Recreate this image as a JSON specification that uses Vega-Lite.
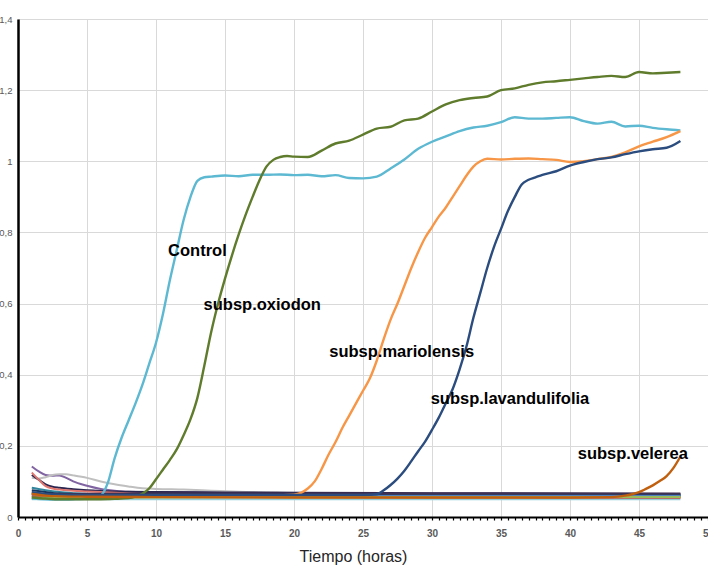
{
  "$schema": "https://vega.github.io/schema/vega-lite/v6.json",
  "width": 690,
  "height": 498,
  "autosize": {"type": "none"},
  "padding": {"left": 18, "top": 19, "right": 0, "bottom": 48},
  "background": "white",
  "config": {
    "view": {"stroke": null},
    "font": "Liberation Sans"
  },
  "datasets": {
    "fondo": [
      {"s": "b01", "t": 1, "v": 0.142}, {"s": "b01", "t": 1.5, "v": 0.128}, {"s": "b01", "t": 2, "v": 0.118}, {"s": "b01", "t": 2.5, "v": 0.116}, {"s": "b01", "t": 3, "v": 0.117}, {"s": "b01", "t": 3.5, "v": 0.11}, {"s": "b01", "t": 4, "v": 0.1}, {"s": "b01", "t": 5, "v": 0.088}, {"s": "b01", "t": 6, "v": 0.079}, {"s": "b01", "t": 7, "v": 0.074}, {"s": "b01", "t": 8, "v": 0.071}, {"s": "b01", "t": 10, "v": 0.07}, {"s": "b01", "t": 15, "v": 0.068}, {"s": "b01", "t": 20, "v": 0.066}, {"s": "b01", "t": 25, "v": 0.065}, {"s": "b01", "t": 30, "v": 0.064}, {"s": "b01", "t": 35, "v": 0.063}, {"s": "b01", "t": 40, "v": 0.062}, {"s": "b01", "t": 45, "v": 0.061}, {"s": "b01", "t": 48, "v": 0.06},
      {"s": "b02", "t": 1, "v": 0.11}, {"s": "b02", "t": 1.5, "v": 0.108}, {"s": "b02", "t": 2, "v": 0.112}, {"s": "b02", "t": 2.5, "v": 0.118}, {"s": "b02", "t": 3, "v": 0.12}, {"s": "b02", "t": 3.5, "v": 0.12}, {"s": "b02", "t": 4, "v": 0.117}, {"s": "b02", "t": 5, "v": 0.11}, {"s": "b02", "t": 6, "v": 0.1}, {"s": "b02", "t": 7, "v": 0.092}, {"s": "b02", "t": 8, "v": 0.086}, {"s": "b02", "t": 9, "v": 0.081}, {"s": "b02", "t": 10, "v": 0.079}, {"s": "b02", "t": 12, "v": 0.077}, {"s": "b02", "t": 14, "v": 0.074}, {"s": "b02", "t": 16, "v": 0.071}, {"s": "b02", "t": 20, "v": 0.068}, {"s": "b02", "t": 25, "v": 0.065}, {"s": "b02", "t": 30, "v": 0.063}, {"s": "b02", "t": 40, "v": 0.061}, {"s": "b02", "t": 48, "v": 0.06},
      {"s": "b03", "t": 1, "v": 0.118}, {"s": "b03", "t": 1.5, "v": 0.105}, {"s": "b03", "t": 2, "v": 0.092}, {"s": "b03", "t": 2.5, "v": 0.085}, {"s": "b03", "t": 3, "v": 0.082}, {"s": "b03", "t": 4, "v": 0.078}, {"s": "b03", "t": 5, "v": 0.075}, {"s": "b03", "t": 6, "v": 0.073}, {"s": "b03", "t": 8, "v": 0.071}, {"s": "b03", "t": 10, "v": 0.07}, {"s": "b03", "t": 15, "v": 0.069}, {"s": "b03", "t": 20, "v": 0.068}, {"s": "b03", "t": 30, "v": 0.067}, {"s": "b03", "t": 40, "v": 0.066}, {"s": "b03", "t": 48, "v": 0.065},
      {"s": "b04", "t": 1, "v": 0.125}, {"s": "b04", "t": 1.5, "v": 0.105}, {"s": "b04", "t": 2, "v": 0.087}, {"s": "b04", "t": 2.5, "v": 0.08}, {"s": "b04", "t": 3, "v": 0.077}, {"s": "b04", "t": 4, "v": 0.074}, {"s": "b04", "t": 5, "v": 0.072}, {"s": "b04", "t": 6, "v": 0.07}, {"s": "b04", "t": 8, "v": 0.066}, {"s": "b04", "t": 10, "v": 0.064}, {"s": "b04", "t": 15, "v": 0.061}, {"s": "b04", "t": 20, "v": 0.06}, {"s": "b04", "t": 30, "v": 0.058}, {"s": "b04", "t": 40, "v": 0.057}, {"s": "b04", "t": 48, "v": 0.056},
      {"s": "b05", "t": 1, "v": 0.082}, {"s": "b05", "t": 2, "v": 0.075}, {"s": "b05", "t": 3, "v": 0.07}, {"s": "b05", "t": 4, "v": 0.067}, {"s": "b05", "t": 5, "v": 0.065}, {"s": "b05", "t": 7, "v": 0.063}, {"s": "b05", "t": 10, "v": 0.062}, {"s": "b05", "t": 20, "v": 0.061}, {"s": "b05", "t": 30, "v": 0.06}, {"s": "b05", "t": 48, "v": 0.06},
      {"s": "b06", "t": 1, "v": 0.075}, {"s": "b06", "t": 2, "v": 0.07}, {"s": "b06", "t": 3, "v": 0.066}, {"s": "b06", "t": 5, "v": 0.064}, {"s": "b06", "t": 10, "v": 0.062}, {"s": "b06", "t": 30, "v": 0.062}, {"s": "b06", "t": 48, "v": 0.062},
      {"s": "b07", "t": 1, "v": 0.068}, {"s": "b07", "t": 2, "v": 0.064}, {"s": "b07", "t": 3, "v": 0.06}, {"s": "b07", "t": 5, "v": 0.058}, {"s": "b07", "t": 10, "v": 0.057}, {"s": "b07", "t": 30, "v": 0.055}, {"s": "b07", "t": 48, "v": 0.054},
      {"s": "b08", "t": 1, "v": 0.06}, {"s": "b08", "t": 10, "v": 0.06}, {"s": "b08", "t": 30, "v": 0.06}, {"s": "b08", "t": 48, "v": 0.06},
      {"s": "b09", "t": 1, "v": 0.05}, {"s": "b09", "t": 10, "v": 0.05}, {"s": "b09", "t": 30, "v": 0.05}, {"s": "b09", "t": 48, "v": 0.05},
      {"s": "b10", "t": 1, "v": 0.065}, {"s": "b10", "t": 10, "v": 0.066}, {"s": "b10", "t": 30, "v": 0.066}, {"s": "b10", "t": 48, "v": 0.066},
      {"s": "b11", "t": 1, "v": 0.058}, {"s": "b11", "t": 10, "v": 0.056}, {"s": "b11", "t": 30, "v": 0.055}, {"s": "b11", "t": 48, "v": 0.054},
      {"s": "b12", "t": 1, "v": 0.054}, {"s": "b12", "t": 10, "v": 0.055}, {"s": "b12", "t": 30, "v": 0.056}, {"s": "b12", "t": 48, "v": 0.056}
    ],
    "curvas": [
      {"s": "Control", "t": 1, "v": 0.052}, {"s": "Control", "t": 2, "v": 0.05}, {"s": "Control", "t": 3, "v": 0.049}, {"s": "Control", "t": 4, "v": 0.05}, {"s": "Control", "t": 5, "v": 0.052}, {"s": "Control", "t": 5.5, "v": 0.054}, {"s": "Control", "t": 6, "v": 0.06}, {"s": "Control", "t": 6.5, "v": 0.095}, {"s": "Control", "t": 7, "v": 0.165}, {"s": "Control", "t": 7.5, "v": 0.222}, {"s": "Control", "t": 8, "v": 0.27}, {"s": "Control", "t": 8.5, "v": 0.318}, {"s": "Control", "t": 9, "v": 0.37}, {"s": "Control", "t": 9.5, "v": 0.43}, {"s": "Control", "t": 10, "v": 0.49}, {"s": "Control", "t": 10.5, "v": 0.57}, {"s": "Control", "t": 11, "v": 0.665}, {"s": "Control", "t": 11.5, "v": 0.75}, {"s": "Control", "t": 12, "v": 0.835}, {"s": "Control", "t": 12.5, "v": 0.9}, {"s": "Control", "t": 13, "v": 0.945}, {"s": "Control", "t": 13.5, "v": 0.955}, {"s": "Control", "t": 14, "v": 0.957}, {"s": "Control", "t": 15, "v": 0.96}, {"s": "Control", "t": 16, "v": 0.958}, {"s": "Control", "t": 17, "v": 0.962}, {"s": "Control", "t": 18, "v": 0.962}, {"s": "Control", "t": 19, "v": 0.963}, {"s": "Control", "t": 20, "v": 0.961}, {"s": "Control", "t": 21, "v": 0.962}, {"s": "Control", "t": 22, "v": 0.958}, {"s": "Control", "t": 23, "v": 0.961}, {"s": "Control", "t": 24, "v": 0.953}, {"s": "Control", "t": 25, "v": 0.952}, {"s": "Control", "t": 26, "v": 0.957}, {"s": "Control", "t": 27, "v": 0.98}, {"s": "Control", "t": 28, "v": 1.005}, {"s": "Control", "t": 29, "v": 1.035}, {"s": "Control", "t": 30, "v": 1.055}, {"s": "Control", "t": 31, "v": 1.07}, {"s": "Control", "t": 32, "v": 1.085}, {"s": "Control", "t": 33, "v": 1.095}, {"s": "Control", "t": 34, "v": 1.1}, {"s": "Control", "t": 35, "v": 1.11}, {"s": "Control", "t": 36, "v": 1.124}, {"s": "Control", "t": 37, "v": 1.12}, {"s": "Control", "t": 38, "v": 1.12}, {"s": "Control", "t": 39, "v": 1.122}, {"s": "Control", "t": 40, "v": 1.124}, {"s": "Control", "t": 41, "v": 1.113}, {"s": "Control", "t": 42, "v": 1.106}, {"s": "Control", "t": 43, "v": 1.111}, {"s": "Control", "t": 44, "v": 1.098}, {"s": "Control", "t": 45, "v": 1.1}, {"s": "Control", "t": 46, "v": 1.094}, {"s": "Control", "t": 47, "v": 1.09}, {"s": "Control", "t": 48, "v": 1.087},
      {"s": "oxiodon", "t": 1, "v": 0.055}, {"s": "oxiodon", "t": 2, "v": 0.052}, {"s": "oxiodon", "t": 3, "v": 0.05}, {"s": "oxiodon", "t": 4, "v": 0.05}, {"s": "oxiodon", "t": 5, "v": 0.05}, {"s": "oxiodon", "t": 6, "v": 0.05}, {"s": "oxiodon", "t": 7, "v": 0.051}, {"s": "oxiodon", "t": 8, "v": 0.053}, {"s": "oxiodon", "t": 8.5, "v": 0.057}, {"s": "oxiodon", "t": 9, "v": 0.065}, {"s": "oxiodon", "t": 9.5, "v": 0.08}, {"s": "oxiodon", "t": 10, "v": 0.106}, {"s": "oxiodon", "t": 10.5, "v": 0.133}, {"s": "oxiodon", "t": 11, "v": 0.16}, {"s": "oxiodon", "t": 11.5, "v": 0.19}, {"s": "oxiodon", "t": 12, "v": 0.23}, {"s": "oxiodon", "t": 12.5, "v": 0.275}, {"s": "oxiodon", "t": 13, "v": 0.335}, {"s": "oxiodon", "t": 13.5, "v": 0.425}, {"s": "oxiodon", "t": 14, "v": 0.52}, {"s": "oxiodon", "t": 14.5, "v": 0.6}, {"s": "oxiodon", "t": 15, "v": 0.67}, {"s": "oxiodon", "t": 15.5, "v": 0.735}, {"s": "oxiodon", "t": 16, "v": 0.795}, {"s": "oxiodon", "t": 16.5, "v": 0.85}, {"s": "oxiodon", "t": 17, "v": 0.9}, {"s": "oxiodon", "t": 17.5, "v": 0.947}, {"s": "oxiodon", "t": 18, "v": 0.985}, {"s": "oxiodon", "t": 18.5, "v": 1.004}, {"s": "oxiodon", "t": 19, "v": 1.012}, {"s": "oxiodon", "t": 19.5, "v": 1.015}, {"s": "oxiodon", "t": 20, "v": 1.013}, {"s": "oxiodon", "t": 21, "v": 1.012}, {"s": "oxiodon", "t": 22, "v": 1.03}, {"s": "oxiodon", "t": 23, "v": 1.05}, {"s": "oxiodon", "t": 24, "v": 1.058}, {"s": "oxiodon", "t": 25, "v": 1.075}, {"s": "oxiodon", "t": 26, "v": 1.092}, {"s": "oxiodon", "t": 27, "v": 1.097}, {"s": "oxiodon", "t": 28, "v": 1.115}, {"s": "oxiodon", "t": 29, "v": 1.12}, {"s": "oxiodon", "t": 30, "v": 1.14}, {"s": "oxiodon", "t": 31, "v": 1.16}, {"s": "oxiodon", "t": 32, "v": 1.172}, {"s": "oxiodon", "t": 33, "v": 1.178}, {"s": "oxiodon", "t": 34, "v": 1.182}, {"s": "oxiodon", "t": 35, "v": 1.2}, {"s": "oxiodon", "t": 36, "v": 1.205}, {"s": "oxiodon", "t": 37, "v": 1.215}, {"s": "oxiodon", "t": 38, "v": 1.222}, {"s": "oxiodon", "t": 39, "v": 1.225}, {"s": "oxiodon", "t": 40, "v": 1.229}, {"s": "oxiodon", "t": 41, "v": 1.233}, {"s": "oxiodon", "t": 42, "v": 1.237}, {"s": "oxiodon", "t": 43, "v": 1.24}, {"s": "oxiodon", "t": 44, "v": 1.237}, {"s": "oxiodon", "t": 45, "v": 1.251}, {"s": "oxiodon", "t": 46, "v": 1.247}, {"s": "oxiodon", "t": 47, "v": 1.249}, {"s": "oxiodon", "t": 48, "v": 1.251},
      {"s": "mariolensis", "t": 1, "v": 0.065}, {"s": "mariolensis", "t": 2, "v": 0.062}, {"s": "mariolensis", "t": 3, "v": 0.06}, {"s": "mariolensis", "t": 5, "v": 0.06}, {"s": "mariolensis", "t": 10, "v": 0.06}, {"s": "mariolensis", "t": 15, "v": 0.06}, {"s": "mariolensis", "t": 18, "v": 0.06}, {"s": "mariolensis", "t": 19, "v": 0.061}, {"s": "mariolensis", "t": 20, "v": 0.063}, {"s": "mariolensis", "t": 20.5, "v": 0.068}, {"s": "mariolensis", "t": 21, "v": 0.08}, {"s": "mariolensis", "t": 21.5, "v": 0.1}, {"s": "mariolensis", "t": 22, "v": 0.135}, {"s": "mariolensis", "t": 22.5, "v": 0.175}, {"s": "mariolensis", "t": 23, "v": 0.21}, {"s": "mariolensis", "t": 23.5, "v": 0.25}, {"s": "mariolensis", "t": 24, "v": 0.285}, {"s": "mariolensis", "t": 24.5, "v": 0.32}, {"s": "mariolensis", "t": 25, "v": 0.355}, {"s": "mariolensis", "t": 25.5, "v": 0.39}, {"s": "mariolensis", "t": 26, "v": 0.44}, {"s": "mariolensis", "t": 26.5, "v": 0.5}, {"s": "mariolensis", "t": 27, "v": 0.555}, {"s": "mariolensis", "t": 27.5, "v": 0.6}, {"s": "mariolensis", "t": 28, "v": 0.65}, {"s": "mariolensis", "t": 28.5, "v": 0.7}, {"s": "mariolensis", "t": 29, "v": 0.745}, {"s": "mariolensis", "t": 29.5, "v": 0.785}, {"s": "mariolensis", "t": 30, "v": 0.815}, {"s": "mariolensis", "t": 30.5, "v": 0.845}, {"s": "mariolensis", "t": 31, "v": 0.87}, {"s": "mariolensis", "t": 31.5, "v": 0.9}, {"s": "mariolensis", "t": 32, "v": 0.93}, {"s": "mariolensis", "t": 32.5, "v": 0.96}, {"s": "mariolensis", "t": 33, "v": 0.985}, {"s": "mariolensis", "t": 33.5, "v": 1.0}, {"s": "mariolensis", "t": 34, "v": 1.007}, {"s": "mariolensis", "t": 35, "v": 1.005}, {"s": "mariolensis", "t": 36, "v": 1.007}, {"s": "mariolensis", "t": 37, "v": 1.008}, {"s": "mariolensis", "t": 38, "v": 1.006}, {"s": "mariolensis", "t": 39, "v": 1.004}, {"s": "mariolensis", "t": 40, "v": 0.998}, {"s": "mariolensis", "t": 41, "v": 1.0}, {"s": "mariolensis", "t": 42, "v": 1.006}, {"s": "mariolensis", "t": 43, "v": 1.012}, {"s": "mariolensis", "t": 44, "v": 1.025}, {"s": "mariolensis", "t": 45, "v": 1.042}, {"s": "mariolensis", "t": 46, "v": 1.055}, {"s": "mariolensis", "t": 47, "v": 1.068}, {"s": "mariolensis", "t": 48, "v": 1.085},
      {"s": "lavandulifolia", "t": 1, "v": 0.07}, {"s": "lavandulifolia", "t": 2, "v": 0.065}, {"s": "lavandulifolia", "t": 3, "v": 0.063}, {"s": "lavandulifolia", "t": 5, "v": 0.062}, {"s": "lavandulifolia", "t": 10, "v": 0.062}, {"s": "lavandulifolia", "t": 15, "v": 0.062}, {"s": "lavandulifolia", "t": 20, "v": 0.062}, {"s": "lavandulifolia", "t": 25, "v": 0.062}, {"s": "lavandulifolia", "t": 26, "v": 0.064}, {"s": "lavandulifolia", "t": 26.5, "v": 0.075}, {"s": "lavandulifolia", "t": 27, "v": 0.09}, {"s": "lavandulifolia", "t": 27.5, "v": 0.108}, {"s": "lavandulifolia", "t": 28, "v": 0.13}, {"s": "lavandulifolia", "t": 28.5, "v": 0.157}, {"s": "lavandulifolia", "t": 29, "v": 0.185}, {"s": "lavandulifolia", "t": 29.5, "v": 0.212}, {"s": "lavandulifolia", "t": 30, "v": 0.245}, {"s": "lavandulifolia", "t": 30.5, "v": 0.28}, {"s": "lavandulifolia", "t": 31, "v": 0.32}, {"s": "lavandulifolia", "t": 31.5, "v": 0.36}, {"s": "lavandulifolia", "t": 32, "v": 0.415}, {"s": "lavandulifolia", "t": 32.5, "v": 0.48}, {"s": "lavandulifolia", "t": 33, "v": 0.56}, {"s": "lavandulifolia", "t": 33.5, "v": 0.63}, {"s": "lavandulifolia", "t": 34, "v": 0.7}, {"s": "lavandulifolia", "t": 34.5, "v": 0.76}, {"s": "lavandulifolia", "t": 35, "v": 0.81}, {"s": "lavandulifolia", "t": 35.5, "v": 0.86}, {"s": "lavandulifolia", "t": 36, "v": 0.9}, {"s": "lavandulifolia", "t": 36.5, "v": 0.935}, {"s": "lavandulifolia", "t": 37, "v": 0.948}, {"s": "lavandulifolia", "t": 37.5, "v": 0.955}, {"s": "lavandulifolia", "t": 38, "v": 0.962}, {"s": "lavandulifolia", "t": 39, "v": 0.972}, {"s": "lavandulifolia", "t": 40, "v": 0.988}, {"s": "lavandulifolia", "t": 41, "v": 0.998}, {"s": "lavandulifolia", "t": 42, "v": 1.006}, {"s": "lavandulifolia", "t": 43, "v": 1.011}, {"s": "lavandulifolia", "t": 44, "v": 1.02}, {"s": "lavandulifolia", "t": 45, "v": 1.028}, {"s": "lavandulifolia", "t": 46, "v": 1.034}, {"s": "lavandulifolia", "t": 47, "v": 1.038}, {"s": "lavandulifolia", "t": 48, "v": 1.057},
      {"s": "velerea", "t": 1, "v": 0.065}, {"s": "velerea", "t": 2, "v": 0.06}, {"s": "velerea", "t": 3, "v": 0.058}, {"s": "velerea", "t": 5, "v": 0.057}, {"s": "velerea", "t": 10, "v": 0.056}, {"s": "velerea", "t": 20, "v": 0.055}, {"s": "velerea", "t": 30, "v": 0.055}, {"s": "velerea", "t": 40, "v": 0.055}, {"s": "velerea", "t": 43, "v": 0.056}, {"s": "velerea", "t": 44, "v": 0.06}, {"s": "velerea", "t": 44.5, "v": 0.064}, {"s": "velerea", "t": 45, "v": 0.07}, {"s": "velerea", "t": 45.5, "v": 0.079}, {"s": "velerea", "t": 46, "v": 0.089}, {"s": "velerea", "t": 46.5, "v": 0.101}, {"s": "velerea", "t": 47, "v": 0.115}, {"s": "velerea", "t": 47.5, "v": 0.138}, {"s": "velerea", "t": 48, "v": 0.17}
    ],
    "etiquetas": [
      {"t": 13.0, "v": 0.748, "txt": "Control"},
      {"t": 17.7, "v": 0.596, "txt": "subsp.oxiodon"},
      {"t": 27.8, "v": 0.464, "txt": "subsp.mariolensis"},
      {"t": 35.65, "v": 0.332, "txt": "subsp.lavandulifolia"},
      {"t": 44.55, "v": 0.177, "txt": "subsp.velerea"}
    ]
  },
  "encoding": {
    "x": {
      "field": "t", "type": "quantitative",
      "scale": {"domain": [0, 50], "nice": false, "zero": false},
      "axis": {
        "title": "Tiempo (horas)",
        "values": [0, 0.5, 1, 1.5, 2, 2.5, 3, 3.5, 4, 4.5, 5, 5.5, 6, 6.5, 7, 7.5, 8, 8.5, 9, 9.5, 10, 10.5, 11, 11.5, 12, 12.5, 13, 13.5, 14, 14.5, 15, 15.5, 16, 16.5, 17, 17.5, 18, 18.5, 19, 19.5, 20, 20.5, 21, 21.5, 22, 22.5, 23, 23.5, 24, 24.5, 25, 25.5, 26, 26.5, 27, 27.5, 28, 28.5, 29, 29.5, 30, 30.5, 31, 31.5, 32, 32.5, 33, 33.5, 34, 34.5, 35, 35.5, 36, 36.5, 37, 37.5, 38, 38.5, 39, 39.5, 40, 40.5, 41, 41.5, 42, 42.5, 43, 43.5, 44, 44.5, 45, 45.5, 46, 46.5, 47, 47.5, 48, 48.5, 49, 49.5, 50],
        "labelExpr": "datum.value % 5 === 0 ? datum.value : ''",
        "labelFont": "Liberation Sans",
        "labelFontSize": 10,
        "labelFontWeight": "bold",
        "labelColor": "#595959",
        "labelPadding": 8,
        "labelOverlap": false,
        "labelFlush": false,
        "domainColor": "#000000",
        "domainWidth": 2,
        "tickColor": "#000000",
        "tickSize": 3,
        "tickWidth": 1.2,
        "grid": true,
        "gridColor": "#D9D9D9",
        "gridWidth": 1,
        "gridOpacity": {"condition": {"test": "datum.value % 5 === 0", "value": 1}, "value": 0},
        "titleFont": "Liberation Sans",
        "titleFontSize": 16,
        "titleFontWeight": "normal",
        "titleColor": "#262626",
        "titleX": 335,
        "titleY": 44,
        "titleBaseline": "alphabetic",
        "titleAnchor": "middle"
      }
    },
    "y": {
      "field": "v", "type": "quantitative",
      "scale": {"domain": [0, 1.4], "nice": false},
      "axis": {
        "title": null,
        "values": [0, 0.2, 0.4, 0.6, 0.8, 1, 1.2, 1.4],
        "labelExpr": "replace(format(datum.value, '.1~f'), '.', ',')",
        "labelFont": "Liberation Sans",
        "labelFontSize": 9.5,
        "labelColor": "#595959",
        "labelPadding": 6,
        "ticks": false,
        "domainColor": "#000000",
        "domainWidth": 2.5,
        "grid": true,
        "gridColor": "#D9D9D9",
        "gridWidth": 1
      }
    }
  },
  "layer": [
    {
      "data": {"name": "fondo"},
      "mark": {"type": "line", "interpolate": "monotone", "strokeWidth": 2},
      "encoding": {
        "color": {
          "field": "s", "type": "nominal", "legend": null,
          "scale": {
            "domain": ["b01", "b02", "b03", "b04", "b05", "b06", "b07", "b08", "b09", "b10", "b11", "b12"],
            "range": ["#8064A2", "#BFBFBF", "#2B2650", "#E0776F", "#31859C", "#17375E", "#E46C0A", "#4F81BD", "#92CDDC", "#403152", "#C0504D", "#9BBB59"]
          }
        },
        "detail": {"field": "s"}
      }
    },
    {
      "data": {"name": "curvas"},
      "mark": {"type": "line", "interpolate": "monotone", "strokeWidth": 2.4},
      "encoding": {
        "stroke": {
          "field": "s", "type": "nominal", "legend": null,
          "scale": {
            "domain": ["velerea", "Control", "oxiodon", "mariolensis", "lavandulifolia"],
            "range": ["#C0600F", "#5DB8D2", "#5F7B2C", "#F79646", "#2B4C7E"]
          }
        }
      }
    },
    {
      "data": {"name": "etiquetas"},
      "mark": {
        "type": "text",
        "font": "Liberation Sans",
        "fontSize": 16.5,
        "fontWeight": "bold",
        "color": "#000000",
        "align": "center",
        "baseline": "middle"
      },
      "encoding": {
        "text": {"field": "txt"}
      }
    }
  ]
}
